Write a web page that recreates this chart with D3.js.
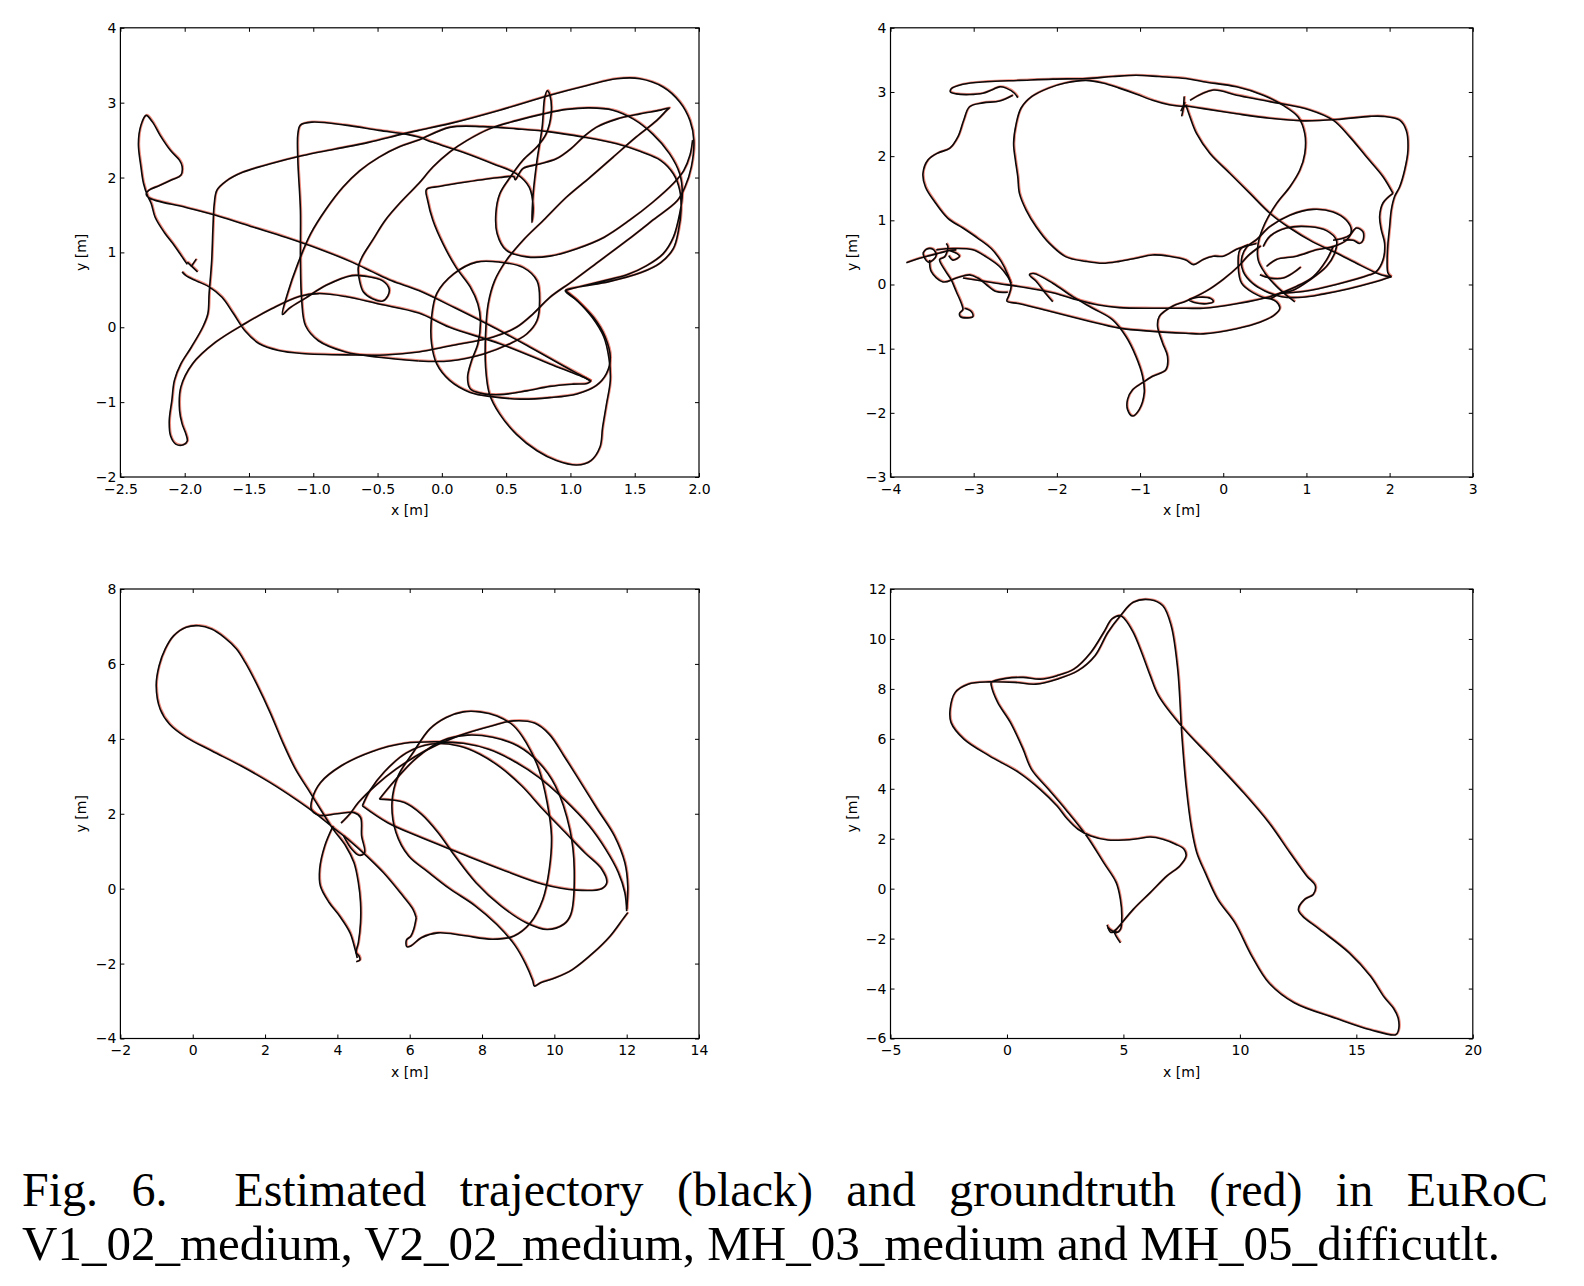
<!DOCTYPE html>
<html>
<head>
<meta charset="utf-8">
<script src="https://cdn.jsdelivr.net/npm/d3@7"></script>
<style>
  body { margin: 0; background: #fff; }
  svg { display: block; }
</style>
</head>
<body>
<svg id="fig" width="1584" height="1286"></svg>
<script>
// tick values for the four panels
var v102XTicks = [-2.5, -2.0, -1.5, -1.0, -0.5, 0.0, 0.5, 1.0, 1.5, 2.0],
    v102YTicks = [-2, -1, 0, 1, 2, 3, 4],
    v202XTicks = [-4, -3, -2, -1, 0, 1, 2, 3],
    v202YTicks = [-3, -2, -1, 0, 1, 2, 3, 4],
    mh03XTicks = [-2, 0, 2, 4, 6, 8, 10, 12, 14],
    mh03YTicks = [-4, -2, 0, 2, 4, 6, 8],
    mh05XTicks = [-5, 0, 5, 10, 15, 20],
    mh05YTicks = [-6, -4, -2, 0, 2, 4, 6, 8, 10, 12];

// trajectories, [x, y] in metres (each entry is one traced stroke)
var v102Tracks = [
  [[-1.90,0.74],[-1.98,0.87]],
  [[-1.91,0.91],[-1.95,0.81]],
  [[-1.98,0.84],[-2.02,0.94],[-2.08,1.09],[-2.16,1.27],[-2.23,1.47],[-2.26,1.65],[-2.29,1.76],[-2.32,1.92],[-2.34,2.14],[-2.36,2.45],[-2.34,2.70],[-2.30,2.83],[-2.25,2.74],[-2.19,2.56],[-2.11,2.36],[-2.04,2.23],[-2.02,2.15],[-2.03,2.03],[-2.10,1.97],[-2.20,1.89],[-2.28,1.83],[-2.30,1.78],[-2.28,1.73],[-1.99,1.60],[-1.73,1.48],[-1.47,1.34],[-1.21,1.20],[-0.96,1.05],[-0.70,0.87],[-0.54,0.74],[-0.39,0.62],[-0.18,0.49],[0.10,0.26],[0.40,0.00],[0.70,-0.28],[0.95,-0.52],[1.10,-0.66],[1.16,-0.72]],
  [[-2.02,0.74],[-1.99,0.69],[-1.91,0.62],[-1.81,0.54],[-1.71,0.40],[-1.62,0.18],[-1.53,-0.05],[-1.42,-0.22],[-1.27,-0.31],[-1.09,-0.35],[-0.70,-0.37],[-0.44,-0.37],[-0.18,-0.33],[0.06,-0.25],[0.40,-0.13],[0.58,0.0],[0.71,0.18],[0.84,0.40],[1.02,0.62],[1.23,0.89],[1.44,1.16],[1.64,1.43],[1.83,1.69],[1.89,1.87],[1.94,2.14],[1.96,2.49],[1.93,2.76],[1.85,3.01],[1.72,3.21],[1.54,3.32],[1.36,3.32],[1.13,3.23],[0.84,3.10],[0.45,2.90],[0.06,2.72],[-0.18,2.63],[-0.31,2.58],[-0.57,2.47],[-0.83,2.38],[-1.09,2.29],[-1.34,2.18],[-1.55,2.07],[-1.68,1.95],[-1.75,1.83],[-1.77,1.65],[-1.78,1.34],[-1.79,0.89],[-1.81,0.45],[-1.82,0.18],[-1.86,0.0],[-1.95,-0.27],[-2.03,-0.49],[-2.08,-0.71],[-2.10,-0.98],[-2.12,-1.25],[-2.11,-1.45],[-2.07,-1.56],[-2.01,-1.57],[-1.98,-1.52],[-1.99,-1.43],[-2.02,-1.29],[-2.04,-1.11],[-2.03,-0.80],[-1.94,-0.49],[-1.76,-0.20],[-1.53,0.05],[-1.32,0.25],[-1.11,0.41],[-0.96,0.45],[-0.75,0.41],[-0.49,0.31],[-0.18,0.19],[0.06,0.0],[0.45,-0.22],[0.84,-0.49],[1.13,-0.69],[1.16,-0.72]],
  [[-0.18,-0.45],[-0.49,-0.40],[-0.75,-0.33],[-0.96,-0.18],[-1.06,0.02],[-1.09,0.36],[-1.10,0.89],[-1.10,1.56],[-1.12,2.23],[-1.12,2.58],[-1.10,2.70],[-1.01,2.74],[-0.75,2.70],[-0.49,2.63],[-0.28,2.58],[-0.18,2.54],[-0.07,2.47],[0.19,2.32],[0.40,2.18],[0.58,2.05],[0.68,1.87],[0.71,1.60],[0.70,1.40],[0.71,1.78],[0.74,2.23],[0.78,2.67],[0.80,3.07],[0.82,3.16],[0.84,3.10],[0.85,2.85],[0.81,2.58],[0.74,2.41],[0.63,2.23],[0.53,2.00],[0.45,1.78],[0.42,1.52],[0.43,1.25],[0.50,1.03],[0.66,0.94],[0.84,0.95],[1.05,1.05],[1.26,1.20],[1.46,1.43],[1.64,1.67],[1.80,1.92],[1.88,2.09],[1.93,2.30],[1.95,2.50]],
  [[-0.18,-0.45],[0.06,-0.45],[0.32,-0.36],[0.53,-0.22],[0.66,-0.09],[0.74,0.09],[0.76,0.36],[0.74,0.62],[0.63,0.80],[0.45,0.87],[0.27,0.87],[0.09,0.71],[-0.04,0.45],[-0.08,0.13],[-0.08,-0.22],[-0.04,-0.49],[0.06,-0.71],[0.22,-0.87],[0.40,-0.93],[0.61,-0.96],[0.84,-0.94],[1.05,-0.89],[1.20,-0.78],[1.28,-0.62],[1.31,-0.40],[1.27,-0.13],[1.18,0.13],[1.05,0.36],[0.96,0.49],[1.07,0.54],[1.26,0.62],[1.44,0.70],[1.59,0.82],[1.72,0.98],[1.80,1.20],[1.85,1.52],[1.87,1.78],[1.85,2.05],[1.77,2.32],[1.64,2.58],[1.49,2.78],[1.33,2.90],[1.15,2.93],[0.97,2.91],[0.79,2.85],[0.58,2.76],[0.37,2.65],[0.19,2.49],[0.06,2.34],[-0.07,2.14],[-0.18,1.92],[-0.31,1.69],[-0.44,1.43],[-0.54,1.16],[-0.62,0.94],[-0.65,0.80],[-0.64,0.62],[-0.61,0.47],[-0.54,0.38],[-0.46,0.35],[-0.42,0.42],[-0.41,0.51],[-0.46,0.62],[-0.59,0.68],[-0.70,0.69],[-0.90,0.56],[-1.06,0.39],[-1.19,0.25],[-1.24,0.17],[-1.20,0.45],[-1.12,0.85],[-1.02,1.25],[-0.90,1.58],[-0.77,1.87],[-0.64,2.09],[-0.49,2.27],[-0.33,2.41],[-0.18,2.50],[0.06,2.67],[0.32,2.68],[0.58,2.65],[0.84,2.61],[1.10,2.54],[1.36,2.45],[1.54,2.35],[1.70,2.23],[1.80,2.05],[1.85,1.83],[1.86,1.56],[1.84,1.29],[1.80,1.05],[1.70,0.86],[1.55,0.73],[1.30,0.61],[1.07,0.54],[0.96,0.49]],
  [[1.16,-0.72],[1.13,-0.75],[1.02,-0.76],[0.84,-0.79],[0.66,-0.85],[0.45,-0.90],[0.30,-0.88],[0.22,-0.82],[0.20,-0.67],[0.23,-0.45],[0.28,-0.22],[0.30,0.09],[0.28,0.31],[0.22,0.54],[0.11,0.80],[0.01,1.11],[-0.07,1.43],[-0.11,1.69],[-0.12,1.84],[-0.02,1.88],[0.19,1.94],[0.45,2.00],[0.56,2.01],[0.57,1.97],[0.63,2.12],[0.76,2.18],[0.89,2.25],[1.00,2.38],[1.10,2.54],[1.20,2.67],[1.36,2.78],[1.54,2.85],[1.70,2.90],[1.77,2.93],[1.75,2.90],[1.67,2.76],[1.51,2.54],[1.33,2.27],[1.15,2.00],[0.97,1.74],[0.79,1.43],[0.63,1.16],[0.50,0.89],[0.41,0.62],[0.36,0.31],[0.34,-0.09],[0.34,-0.53],[0.37,-0.89],[0.45,-1.16],[0.58,-1.43],[0.74,-1.65],[0.89,-1.78],[1.05,-1.84],[1.16,-1.78],[1.23,-1.60],[1.25,-1.34],[1.28,-1.03],[1.31,-0.71],[1.30,-0.42],[1.26,-0.13],[1.17,0.13],[1.05,0.36],[0.96,0.49]]
];

var v202Tracks = [
  [[-2.47,2.91],[-2.51,2.98],[-2.61,3.06],[-2.69,3.08],[-2.77,3.04],[-2.89,2.98],[-3.05,2.96],[-3.21,2.97],[-3.28,3.00],[-3.27,3.05],[-3.13,3.12],[-2.85,3.16],[-2.45,3.18],[-2.05,3.20],[-1.65,3.21],[-1.33,3.24],[-1.05,3.26],[-0.77,3.24],[-0.45,3.21],[-0.24,3.16],[0.16,3.08],[0.48,2.95],[0.72,2.79],[0.90,2.61],[0.98,2.35],[0.98,2.04],[0.92,1.78],[0.80,1.52],[0.64,1.26],[0.50,0.95],[0.42,0.64],[0.42,0.38],[0.50,0.18],[0.64,-0.03],[0.78,-0.19],[0.86,-0.27]],
  [[-0.45,2.77],[-0.65,2.80],[-0.85,2.87],[-1.05,2.97],[-1.25,3.06],[-1.45,3.14],[-1.65,3.18],[-1.90,3.14],[-2.10,3.06],[-2.30,2.93],[-2.43,2.75],[-2.49,2.50],[-2.52,2.20],[-2.50,1.95],[-2.47,1.68],[-2.45,1.42],[-2.37,1.16],[-2.25,0.90],[-2.09,0.64],[-1.89,0.43],[-1.65,0.36],[-1.45,0.33],[-1.25,0.36],[-1.05,0.41],[-0.85,0.46],[-0.65,0.44],[-0.45,0.38],[-0.36,0.31],[-0.24,0.39],[-0.12,0.44],[0.0,0.44],[0.16,0.55],[0.28,0.60],[0.40,0.64]],
  [[-0.50,2.62],[-0.48,2.75],[-0.47,2.93]],
  [[-0.51,2.70],[-0.46,2.84]],
  [[-0.45,2.80],[-0.40,2.61],[-0.32,2.35],[-0.16,2.04],[0.08,1.73],[0.32,1.42],[0.56,1.11],[0.80,0.88],[1.08,0.66],[1.36,0.49],[1.60,0.33],[1.84,0.18],[1.96,0.13],[2.02,0.12]],
  [[-0.48,2.79],[-0.24,2.74],[0.16,2.66],[0.56,2.59],[0.96,2.55],[1.36,2.57],[1.76,2.62],[1.92,2.62],[2.12,2.56],[2.20,2.40],[2.22,2.09],[2.18,1.78],[2.12,1.52],[2.06,1.37],[2.02,1.16],[2.00,0.90],[1.98,0.64],[1.97,0.38],[1.98,0.18],[2.02,0.12]],
  [[2.04,1.42],[1.92,1.27],[1.88,1.06],[1.90,0.85],[1.94,0.64],[1.92,0.38],[1.84,0.20],[1.76,0.15],[1.36,0.0],[0.96,-0.11],[0.68,-0.14]],
  [[-0.40,2.87],[-0.12,3.03],[0.16,2.95],[0.56,2.85],[1.04,2.72],[1.32,2.56],[1.52,2.30],[1.72,1.99],[1.92,1.68],[2.04,1.42]],
  [[2.02,0.12],[1.80,0.03],[1.50,-0.07],[1.20,-0.15],[0.95,-0.20],[0.70,-0.19],[0.50,-0.10],[0.35,0.02],[0.24,0.20],[0.22,0.40],[0.28,0.58],[0.40,0.70],[0.56,0.90],[0.80,1.08],[1.08,1.17],[1.32,1.13],[1.48,1.00],[1.54,0.84],[1.48,0.69],[1.32,0.59],[1.12,0.54],[0.88,0.44],[0.64,0.39],[0.52,0.28]],
  [[0.48,0.59],[0.56,0.75],[0.76,0.88],[1.04,0.90],[1.24,0.84],[1.36,0.69],[1.34,0.49],[1.24,0.28],[1.04,0.07],[0.84,-0.09],[0.68,-0.14],[0.56,-0.22],[0.36,-0.13],[0.22,0.02],[0.18,0.28],[0.20,0.54],[0.30,0.62]],
  [[1.32,0.69],[1.44,0.72],[1.52,0.77],[1.60,0.88],[1.68,0.82],[1.68,0.69],[1.64,0.64],[1.56,0.69],[1.44,0.69]],
  [[0.44,0.15],[0.56,0.10],[0.72,0.10],[0.84,0.18],[0.93,0.27]],
  [[-0.42,-0.24],[-0.30,-0.20],[-0.15,-0.22],[-0.12,-0.27],[-0.20,-0.30],[-0.35,-0.28],[-0.42,-0.24]],
  [[-2.53,2.95],[-2.69,2.86],[-2.89,2.83],[-3.05,2.77],[-3.12,2.56],[-3.19,2.30],[-3.29,2.12],[-3.43,2.05],[-3.55,1.94],[-3.61,1.73],[-3.58,1.52],[-3.47,1.29],[-3.31,1.03],[-3.13,0.88],[-2.95,0.72],[-2.79,0.56],[-2.67,0.36],[-2.59,0.15],[-2.55,-0.03],[-2.58,-0.18],[-2.60,-0.26],[-2.45,-0.30],[-2.05,-0.43],[-1.65,-0.56],[-1.25,-0.68],[-0.85,-0.73],[-0.45,-0.76],[-0.24,-0.77],[0.16,-0.69],[0.44,-0.59],[0.62,-0.47],[0.68,-0.37],[0.64,-0.27],[0.56,-0.22]],
  [[-2.05,-0.27],[-2.13,-0.15],[-2.25,0.05],[-2.33,0.15],[-2.28,0.17],[-2.05,0.02],[-1.81,-0.19],[-1.57,-0.37],[-1.33,-0.55],[-1.17,-0.81],[-1.05,-1.12],[-0.97,-1.43],[-0.95,-1.69],[-1.01,-1.95],[-1.09,-2.05],[-1.15,-1.95],[-1.15,-1.79],[-1.09,-1.64],[-0.97,-1.53],[-0.85,-1.43],[-0.69,-1.33],[-0.67,-1.12],[-0.73,-0.91],[-0.79,-0.65],[-0.77,-0.50],[-0.61,-0.34],[-0.45,-0.26],[-0.20,-0.10],[0.0,0.08],[0.18,0.28],[0.30,0.45],[0.45,0.60]],
  [[-3.13,0.10],[-2.73,0.02],[-2.37,-0.05],[-2.05,-0.13],[-1.81,-0.22],[-1.50,-0.32],[-1.25,-0.36],[-0.85,-0.37],[-0.45,-0.37],[-0.24,-0.37],[0.16,-0.30],[0.56,-0.19],[0.88,-0.03],[1.08,0.12],[1.24,0.38],[1.32,0.59]],
  [[-3.81,0.34],[-3.65,0.41],[-3.53,0.45],[-3.41,0.49],[-3.29,0.53],[-3.21,0.54]],
  [[-3.61,0.49],[-3.57,0.55],[-3.49,0.55],[-3.45,0.46],[-3.49,0.38],[-3.55,0.35],[-3.59,0.41],[-3.61,0.49]],
  [[-3.33,0.64],[-3.31,0.59],[-3.35,0.43],[-3.41,0.39],[-3.35,0.23],[-3.27,0.07],[-3.21,-0.11],[-3.15,-0.29],[-3.13,-0.39],[-3.17,-0.45],[-3.16,-0.50],[-3.07,-0.52],[-3.01,-0.50],[-3.03,-0.42],[-3.11,-0.37]],
  [[-3.53,0.38],[-3.51,0.20],[-3.37,0.04],[-3.21,0.10],[-3.05,0.15],[-2.95,0.10],[-2.85,0.0],[-2.73,-0.11],[-2.59,-0.12]],
  [[-3.45,0.54],[-3.25,0.56],[-3.01,0.54],[-2.85,0.43],[-2.69,0.28],[-2.59,0.12],[-2.55,0.02]],
  [[-3.29,0.53],[-3.20,0.48],[-3.17,0.44],[-3.25,0.38],[-3.30,0.45]]
];

var mh03Tracks = [
  [[6.18,-0.78],[6.09,-0.55],[5.74,-0.11],[5.27,0.43],[4.81,0.87],[4.35,1.27],[3.88,1.63],[3.42,1.99],[2.84,2.39],[2.14,2.83],[1.33,3.28],[0.52,3.68],[-0.18,4.04],[-0.64,4.39],[-0.90,4.79],[-1.01,5.42],[-0.93,5.95],[-0.76,6.40],[-0.53,6.75],[-0.18,6.98],[0.17,7.02],[0.52,6.93],[0.87,6.71],[1.21,6.40],[1.45,6.04],[1.79,5.42],[2.14,4.70],[2.49,3.90],[2.84,3.19],[3.19,2.65],[3.53,2.12],[3.88,1.59],[4.23,1.14],[4.46,0.69],[4.58,0.16],[4.64,-0.37],[4.64,-0.91],[4.58,-1.44],[4.52,-1.71],[4.60,-1.80],[4.62,-1.91],[4.52,-1.95]],
  [[6.18,-0.78],[6.11,-1.09],[6.03,-1.27],[5.91,-1.37],[5.92,-1.55],[6.03,-1.53],[6.32,-1.31],[6.78,-1.18],[7.48,-1.25],[8.29,-1.35],[8.87,-1.27],[9.34,-0.91],[9.68,-0.29],[9.86,0.52],[9.92,1.41],[9.80,2.30],[9.57,3.19],[9.22,3.90],[8.87,4.35],[8.41,4.61],[7.94,4.72],[7.48,4.72],[7.01,4.57],[6.55,4.26],[6.09,3.63],[5.68,3.01],[5.51,2.30],[5.62,1.50],[5.97,0.87],[6.50,0.45],[7.10,0.0],[7.80,-0.45],[8.40,-0.95],[8.90,-1.50],[9.20,-2.00],[9.40,-2.45],[9.45,-2.60],[9.62,-2.51],[10.03,-2.38],[10.50,-2.16],[11.08,-1.71],[11.54,-1.27],[11.89,-0.82],[12.03,-0.64]],
  [[4.17,1.41],[4.40,1.05],[4.60,0.89],[4.75,0.96],[4.67,1.41],[4.64,1.90],[4.46,2.03],[4.00,2.00],[3.48,1.96],[3.28,2.12],[3.30,2.39],[3.53,2.83],[4.11,3.28],[4.93,3.65],[5.85,3.88],[6.78,3.92],[7.48,3.88],[8.18,3.72],[8.87,3.41],[9.57,2.97],[10.26,2.39],[10.96,1.68],[11.42,1.05],[11.77,0.43],[11.95,-0.11],[12.00,-0.60]],
  [[4.10,1.75],[4.35,2.00],[4.58,2.30],[5.04,2.74],[5.62,3.19],[6.43,3.68],[7.36,4.08],[8.29,4.35],[8.87,4.48],[9.45,4.42],[9.86,4.12],[10.26,3.55],[10.73,2.83],[11.19,2.12],[11.66,1.41],[11.95,0.69],[12.03,0.07],[12.00,-0.55]],
  [[4.69,2.21],[5.39,1.76],[6.20,1.41],[7.36,0.96],[8.52,0.52],[9.68,0.12],[10.61,-0.04],[11.31,0.0],[11.45,0.16],[11.31,0.52],[10.84,0.96],[10.26,1.54],[9.68,2.12],[9.10,2.74],[8.52,3.23],[7.94,3.59],[7.36,3.81],[6.60,3.86],[5.90,3.62],[5.30,3.12],[4.90,2.62],[4.69,2.21]],
  [[5.16,2.39],[5.85,2.30],[6.32,1.99],[6.78,1.50],[7.25,0.87],[7.83,0.16],[8.52,-0.46],[9.22,-0.91],[9.80,-1.09],[10.26,-0.95],[10.45,-0.70],[10.55,0.50],[10.43,1.57],[10.03,2.74],[9.57,3.37],[8.99,3.81],[8.29,4.04],[7.60,4.10],[6.90,3.95],[6.20,3.50],[5.60,2.90],[5.16,2.39]],
  [[3.88,1.67],[3.65,1.14],[3.51,0.52],[3.53,0.07],[3.77,-0.37],[4.06,-0.73],[4.35,-1.18],[4.49,-1.62],[4.55,-1.85]]
];

var mh05Tracks = [
  [[4.87,-2.17],[4.60,-1.70],[4.69,-1.63],[5.42,-0.83],[6.15,-0.16],[6.87,0.51],[7.42,0.91],[7.69,1.31],[7.60,1.58],[7.24,1.78],[6.69,1.98],[6.15,2.07],[5.60,2.00],[5.05,1.95],[4.33,1.95],[3.60,2.11],[3.05,2.38],[2.60,2.78],[2.15,3.31],[1.42,3.98],[0.51,4.65],[-0.76,5.32],[-1.85,5.99],[-2.40,6.65],[-2.44,7.19],[-2.22,7.86],[-1.67,8.19],[-0.76,8.28],[0.33,8.26],[1.24,8.19],[2.15,8.39],[3.05,8.73],[3.78,9.33],[4.33,10.26],[4.87,10.93],[5.42,11.47],[6.15,11.57],[6.69,11.33],[7.05,10.53],[7.33,8.79],[7.51,6.12],[7.69,4.12],[7.93,2.38],[8.15,1.44],[8.51,0.64],[9.05,-0.43],[9.78,-1.36],[10.51,-2.70],[11.24,-3.77],[12.33,-4.57],[14.15,-5.20],[15.60,-5.65],[16.69,-5.85],[16.80,-5.70],[16.80,-5.20],[16.60,-4.80],[16.20,-4.35],[15.60,-3.50],[14.69,-2.57],[13.42,-1.63],[12.69,-1.10],[12.51,-0.83],[12.78,-0.43],[13.15,-0.23],[13.24,0.11],[12.87,0.51],[12.15,1.44],[11.24,2.65],[10.15,3.85],[8.69,5.32],[7.60,6.39],[6.51,7.72],[6.15,8.53],[5.78,9.46],[5.42,10.26],[5.05,10.80],[4.87,10.93],[4.51,10.80],[4.15,10.26],[3.60,9.46],[2.87,8.79],[2.15,8.53],[1.42,8.39],[0.69,8.46],[-0.04,8.42],[-0.67,8.26],[-0.67,8.12],[-0.40,7.46],[0.15,6.65],[0.69,5.59],[1.05,4.78],[1.78,3.98],[2.51,3.18],[3.42,2.11],[4.15,1.04],[4.69,0.24],[4.87,-0.43],[4.93,-1.10],[4.87,-1.63],[4.69,-1.76],[4.33,-1.56]],
  [[4.30,-1.45],[4.45,-1.75],[4.70,-1.70]]
];

var captionLine1 = ["Fig.", "6.", "Estimated", "trajectory", "(black)", "and", "groundtruth", "(red)", "in", "EuRoC"],
    captionLine2 = "V1_02_medium, V2_02_medium, MH_03_medium and MH_05_difficutlt.";

var panels = [
  { tracks: v102Tracks, xDomain: [-2.5, 2.0], yDomain: [-2, 4], xTicks: v102XTicks, yTicks: v102YTicks, xFmt: ".1f", box: [120.4, 27.8, 699, 477] },
  { tracks: v202Tracks, xDomain: [-4, 3], yDomain: [-3, 4], xTicks: v202XTicks, yTicks: v202YTicks, xFmt: "d", box: [890.5, 27.8, 1472.8, 477] },
  { tracks: mh03Tracks, xDomain: [-2, 14], yDomain: [-4, 8], xTicks: mh03XTicks, yTicks: mh03YTicks, xFmt: "d", box: [120.4, 589, 699, 1038.5] },
  { tracks: mh05Tracks, xDomain: [-5, 20], yDomain: [-6, 12], xTicks: mh05XTicks, yTicks: mh05YTicks, xFmt: "d", box: [890.5, 589, 1472.8, 1038.5] }
];

var svg = d3.select("#fig");
svg.append("rect").attr("width", 1584).attr("height", 1286).attr("fill", "#fff");

var tickFont = "'DejaVu Sans', 'Bitstream Vera Sans', sans-serif";

function styleAxis(g) {
  g.select(".domain").remove();
  g.selectAll(".tick line").attr("stroke", "#000").attr("stroke-width", 1);
  g.selectAll(".tick text").attr("fill", "#000").attr("font-size", 14).attr("font-family", tickFont);
}

panels.forEach(function (p, k) {
  var left = p.box[0], top = p.box[1], right = p.box[2], bottom = p.box[3];
  var x = d3.scaleLinear().domain(p.xDomain).range([left, right]),
      y = d3.scaleLinear().domain(p.yDomain).range([bottom, top]);
  var g = svg.append("g");

  svg.append("clipPath").attr("id", "clip" + k)
    .append("rect").attr("x", left).attr("y", top).attr("width", right - left).attr("height", bottom - top);

  var line = d3.line()
    .x(function (d) { return x(d[0]); })
    .y(function (d) { return y(d[1]); })
    .curve(d3.curveCatmullRom.alpha(0.5));

  var plot = g.append("g").attr("clip-path", "url(#clip" + k + ")");
  // groundtruth (red) sits under the estimate (black); the two agree closely
  plot.selectAll("path.gt").data(p.tracks).join("path")
    .attr("class", "gt")
    .attr("d", line)
    .attr("fill", "none")
    .attr("stroke", "#e4442e")
    .attr("stroke-width", 2.2)
    .attr("stroke-opacity", 0.6)
    .attr("transform", "translate(0.7,-0.5)");
  plot.selectAll("path.est").data(p.tracks).join("path")
    .attr("class", "est")
    .attr("d", line)
    .attr("fill", "none")
    .attr("stroke", "#0a0a0a")
    .attr("stroke-width", 1.6)
    .attr("stroke-linejoin", "round");

  var xf = d3.format(p.xFmt);
  g.append("g").attr("transform", "translate(0," + bottom + ")")
    .call(d3.axisBottom(x).tickValues(p.xTicks).tickSize(-4).tickSizeOuter(0).tickPadding(7).tickFormat(xf))
    .call(styleAxis);
  g.append("g").attr("transform", "translate(0," + top + ")")
    .call(d3.axisTop(x).tickValues(p.xTicks).tickSize(-4).tickSizeOuter(0).tickFormat(""))
    .call(styleAxis);
  g.append("g").attr("transform", "translate(" + left + ",0)")
    .call(d3.axisLeft(y).tickValues(p.yTicks).tickSize(-4).tickSizeOuter(0).tickPadding(4).tickFormat(d3.format("d")))
    .call(styleAxis);
  g.append("g").attr("transform", "translate(" + right + ",0)")
    .call(d3.axisRight(y).tickValues(p.yTicks).tickSize(-4).tickSizeOuter(0).tickFormat(""))
    .call(styleAxis);

  g.append("rect")
    .attr("x", left).attr("y", top)
    .attr("width", right - left).attr("height", bottom - top)
    .attr("fill", "none").attr("stroke", "#000").attr("stroke-width", 1.2);

  g.append("text")
    .attr("x", (left + right) / 2).attr("y", bottom + 38)
    .attr("text-anchor", "middle")
    .attr("font-family", tickFont).attr("font-size", 14)
    .text("x [m]");
  g.append("text")
    .attr("transform", "translate(" + (left - 39) + "," + ((top + bottom) / 2) + ") rotate(-90)")
    .attr("text-anchor", "middle")
    .attr("dominant-baseline", "central")
    .attr("font-family", tickFont).attr("font-size", 14)
    .text("y [m]");
});

// caption: first line justified, second line set to its measured width
var cap = svg.append("g")
  .attr("font-family", "'Liberation Serif', 'Times New Roman', serif")
  .attr("font-size", 48)
  .attr("fill", "#000");

var words = cap.selectAll("text.w").data(captionLine1).join("text")
  .attr("class", "w")
  .attr("y", 1206)
  .text(function (d) { return d; });

var widths = [];
words.each(function () { widths.push(this.getComputedTextLength()); });
var lineStart = 22, lineEnd = 1548;
var gap = (lineEnd - lineStart - d3.sum(widths)) / captionLine1.length; // one extra unit after "6."
var xpos = lineStart;
words.attr("x", function (d, i) {
  var x0 = xpos;
  xpos += widths[i] + gap * (i === 1 ? 2 : 1);
  return x0;
});

cap.append("text")
  .attr("x", lineStart).attr("y", 1260)
  .attr("textLength", 1478)
  .attr("lengthAdjust", "spacingAndGlyphs")
  .text(captionLine2);
</script>
</body>
</html>
